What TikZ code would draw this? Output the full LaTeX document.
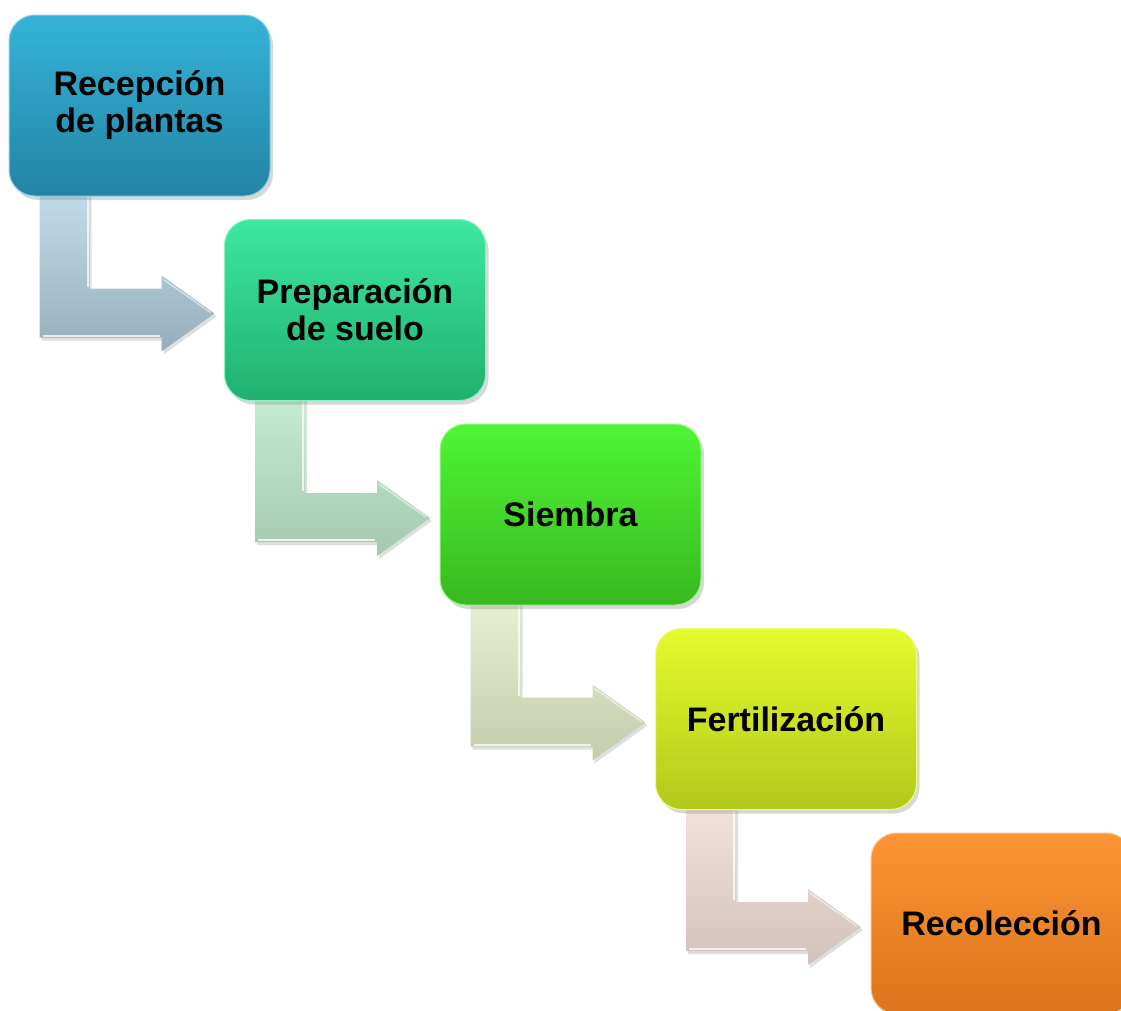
\documentclass[tikz,border=0pt]{standalone}
\usepackage{fontspec}
\setmainfont{Liberation Sans}
\usetikzlibrary{calc,shadows,backgrounds}
\definecolor{bAt}{HTML}{35B3D8}\definecolor{bAb}{HTML}{2384A3}
\definecolor{bBt}{HTML}{3DE8A0}\definecolor{bBb}{HTML}{20B070}
\definecolor{bCt}{HTML}{50F535}\definecolor{bCb}{HTML}{38B820}
\definecolor{bDt}{HTML}{E4FC2C}\definecolor{bDb}{HTML}{B2C81C}
\definecolor{bEt}{HTML}{FB9535}\definecolor{bEb}{HTML}{DC741C}
\definecolor{aAt}{HTML}{C2DDE9}\definecolor{aAb}{HTML}{95AEBA}
\definecolor{aBt}{HTML}{C6ECD4}\definecolor{aBb}{HTML}{A4C8B0}
\definecolor{aCt}{HTML}{E6F0D0}\definecolor{aCb}{HTML}{C4CCAE}
\definecolor{aDt}{HTML}{F2E2DC}\definecolor{aDb}{HTML}{D2C2BC}
\tikzset{
  stepbox/.style={rectangle, rounded corners=26pt, minimum width=261pt, minimum height=181pt,
    inner sep=0pt, align=center, text=black, line width=1pt,
    font=\bfseries\fontsize{34}{37}\selectfont,
    drop shadow={opacity=0.3, shadow xshift=3pt, shadow yshift=-4pt}},
  bentarrow/.style={drop shadow={opacity=0.25, shadow xshift=2pt, shadow yshift=-3pt}},
  bevel/.style={white, opacity=0.75, line width=2pt}
}
\newcommand\bentarr[3]{%
  \path[bentarrow, top color=#2, bottom color=#3]
    ($(#1.south west)+(31,-6)$) -- ($(#1.south west)+(81,-6)$) --
    ($(#1.south west)+(81,92)$) -- ($(#1.south west)+(153,92)$) --
    ($(#1.south west)+(153,79)$) -- ($(#1.south west)+(206,117)$) --
    ($(#1.south west)+(153,155)$) -- ($(#1.south west)+(153,141)$) --
    ($(#1.south west)+(31,141)$) -- cycle;
  \draw[bevel] ($(#1.south west)+(79,0)$) -- ($(#1.south west)+(79,90)$);
  \draw[bevel] ($(#1.south west)+(34,139)$) -- ($(#1.south west)+(151,139)$);
  \draw[white, opacity=0.5, line width=1.5pt] ($(#1.south west)+(155,83)$) -- ($(#1.south west)+(202,116)$);
}
\begin{document}
\begin{tikzpicture}[x=1pt,y=-1pt]
\useasboundingbox (0,0) rectangle (1121,1010);
\clip (0,0) rectangle (1121,1010);
\node[stepbox, top color=bAt, bottom color=bAb, draw=bAt!60!white] (b1) at (139.5,105.5) {Recepción\\de plantas};
\node[stepbox, top color=bBt, bottom color=bBb, draw=bBt!60!white] (b2) at (355,310) {Preparación\\de suelo};
\node[stepbox, top color=bCt, bottom color=bCb, draw=bCt!60!white] (b3) at (570.5,514.5) {Siembra};
\node[stepbox, top color=bDt, bottom color=bDb, draw=bDt!60!white] (b4) at (786,719) {Fertilización};
\node[stepbox, top color=bEt, bottom color=bEb, draw=bEt!60!white] (b5) at (1001.5,923.5) {Recolección};
\begin{scope}[on background layer]
\path[fill=white] (0,0) rectangle (1121,1010);
\bentarr{b1}{aAt}{aAb}
\bentarr{b2}{aBt}{aBb}
\bentarr{b3}{aCt}{aCb}
\bentarr{b4}{aDt}{aDb}
\end{scope}
\end{tikzpicture}
\end{document}
